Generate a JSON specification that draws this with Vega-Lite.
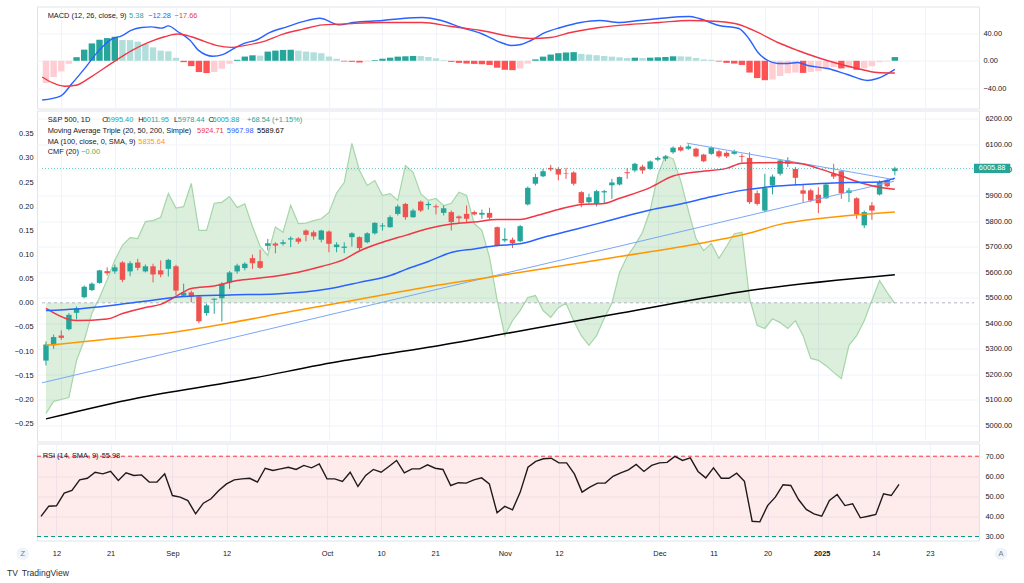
{
"$schema": "https://vega.github.io/schema/vega-lite/v6.json",
"autosize": {"type": "pad"},
"padding": {"left": 6, "top": 5.5, "right": 0, "bottom": 0},
"background": "#ffffff",
"bounds": "flush",
"spacing": 2,
"resolve": {"scale": {"color": "independent"}},
"config": {
  "view": {"stroke": "#e0e3eb", "strokeWidth": 1},
  "font": "Liberation Sans",
  "axis": {"labelFont": "Liberation Sans", "labelFontSize": 7.4, "labelColor": "#131722", "domain": false, "ticks": false, "gridColor": "#f0f3fa", "gridWidth": 1, "labelOverlap": false},
  "text": {"font": "Liberation Sans", "fontSize": 7.4}
},
"datasets": {
  "candles": [
    {"i":0,"o":5254,"h":5329,"l":5235,"c":5317},{"i":1,"o":5314,"h":5356,"l":5300,"c":5346},{"i":2,"o":5352,"h":5372,"l":5335,"c":5343},{"i":3,"o":5377,"h":5440,"l":5372,"c":5433},{"i":4,"o":5441,"h":5466,"l":5415,"c":5459},{"i":5,"o":5502,"h":5548,"l":5498,"c":5543},{"i":6,"o":5530,"h":5560,"l":5526,"c":5555},{"i":7,"o":5558,"h":5609,"l":5555,"c":5607},{"i":8,"o":5604,"h":5619,"l":5587,"c":5596},{"i":9,"o":5603,"h":5630,"l":5594,"c":5619},
    {"i":10,"o":5638,"h":5643,"l":5561,"c":5570},{"i":11,"o":5603,"h":5643,"l":5584,"c":5635},{"i":12,"o":5638,"h":5652,"l":5607,"c":5617},{"i":13,"o":5603,"h":5630,"l":5599,"c":5623},{"i":14,"o":5623,"h":5633,"l":5560,"c":5591},{"i":15,"o":5607,"h":5646,"l":5580,"c":5591},{"i":16,"o":5613,"h":5652,"l":5583,"c":5648},{"i":17,"o":5623,"h":5629,"l":5509,"c":5528},{"i":18,"o":5508,"h":5555,"l":5505,"c":5520},{"i":19,"o":5521,"h":5528,"l":5482,"c":5505},
    {"i":20,"o":5505,"h":5509,"l":5400,"c":5408},{"i":21,"o":5440,"h":5477,"l":5430,"c":5470},{"i":22,"o":5492,"h":5498,"l":5437,"c":5496},{"i":23,"o":5498,"h":5561,"l":5407,"c":5555},{"i":24,"o":5560,"h":5604,"l":5535,"c":5599},{"i":25,"o":5603,"h":5633,"l":5594,"c":5626},{"i":26,"o":5616,"h":5639,"l":5607,"c":5633},{"i":27,"o":5655,"h":5669,"l":5613,"c":5635},{"i":28,"o":5643,"h":5688,"l":5613,"c":5617},{"i":29,"o":5703,"h":5730,"l":5685,"c":5713},
    {"i":30,"o":5712,"h":5717,"l":5674,"c":5704},{"i":31,"o":5711,"h":5727,"l":5704,"c":5717},{"i":32,"o":5728,"h":5740,"l":5698,"c":5733},{"i":33,"o":5732,"h":5737,"l":5711,"c":5719},{"i":34,"o":5763,"h":5767,"l":5721,"c":5746},{"i":35,"o":5756,"h":5763,"l":5727,"c":5740},{"i":36,"o":5727,"h":5766,"l":5717,"c":5763},{"i":37,"o":5759,"h":5763,"l":5678,"c":5711},{"i":38,"o":5698,"h":5717,"l":5678,"c":5708},{"i":39,"o":5695,"h":5717,"l":5674,"c":5700},
    {"i":40,"o":5737,"h":5756,"l":5700,"c":5752},{"i":41,"o":5737,"h":5740,"l":5685,"c":5694},{"i":42,"o":5717,"h":5756,"l":5713,"c":5752},{"i":43,"o":5752,"h":5795,"l":5747,"c":5793},{"i":44,"o":5779,"h":5792,"l":5763,"c":5783},{"i":45,"o":5776,"h":5822,"l":5774,"c":5815},{"i":46,"o":5828,"h":5865,"l":5822,"c":5857},{"i":47,"o":5867,"h":5871,"l":5805,"c":5815},{"i":48,"o":5815,"h":5848,"l":5813,"c":5841},{"i":49,"o":5876,"h":5880,"l":5835,"c":5841},
    {"i":50,"o":5862,"h":5876,"l":5845,"c":5867},{"i":51,"o":5858,"h":5865,"l":5826,"c":5854},{"i":52,"o":5832,"h":5861,"l":5822,"c":5850},{"i":53,"o":5835,"h":5841,"l":5763,"c":5796},{"i":54,"o":5818,"h":5822,"l":5792,"c":5811},{"i":55,"o":5828,"h":5861,"l":5796,"c":5809},{"i":56,"o":5835,"h":5841,"l":5822,"c":5826},{"i":57,"o":5825,"h":5845,"l":5809,"c":5832},{"i":58,"o":5832,"h":5852,"l":5805,"c":5813},{"i":59,"o":5776,"h":5779,"l":5700,"c":5704},
    {"i":60,"o":5724,"h":5772,"l":5717,"c":5730},{"i":61,"o":5727,"h":5735,"l":5695,"c":5713},{"i":62,"o":5721,"h":5785,"l":5717,"c":5780},{"i":63,"o":5865,"h":5935,"l":5861,"c":5930},{"i":64,"o":5946,"h":5985,"l":5939,"c":5972},{"i":65,"o":5975,"h":6004,"l":5972,"c":5995},{"i":66,"o":6008,"h":6020,"l":5995,"c":6002},{"i":67,"o":6004,"h":6011,"l":5959,"c":5982},{"i":68,"o":5987,"h":6008,"l":5965,"c":5985},{"i":69,"o":5990,"h":5995,"l":5939,"c":5946},
    {"i":70,"o":5913,"h":5917,"l":5854,"c":5870},{"i":71,"o":5874,"h":5907,"l":5867,"c":5893},{"i":72,"o":5867,"h":5922,"l":5857,"c":5917},{"i":73,"o":5912,"h":5922,"l":5867,"c":5917},{"i":74,"o":5940,"h":5965,"l":5887,"c":5951},{"i":75,"o":5943,"h":5974,"l":5939,"c":5972},{"i":76,"o":5991,"h":6008,"l":5965,"c":5987},{"i":77,"o":5998,"h":6028,"l":5991,"c":6024},{"i":78,"o":6013,"h":6020,"l":5985,"c":5998},{"i":79,"o":6004,"h":6037,"l":6000,"c":6033},
    {"i":80,"o":6040,"h":6053,"l":6034,"c":6047},{"i":81,"o":6044,"h":6057,"l":6034,"c":6053},{"i":82,"o":6069,"h":6092,"l":6063,"c":6087},{"i":83,"o":6089,"h":6096,"l":6072,"c":6076},{"i":84,"o":6083,"h":6100,"l":6079,"c":6092},{"i":85,"o":6083,"h":6087,"l":6050,"c":6053},{"i":86,"o":6060,"h":6063,"l":6030,"c":6034},{"i":87,"o":6063,"h":6092,"l":6059,"c":6087},{"i":88,"o":6073,"h":6079,"l":6047,"c":6053},{"i":89,"o":6067,"h":6073,"l":6047,"c":6053},
    {"i":90,"o":6063,"h":6079,"l":6060,"c":6073},{"i":91,"o":6054,"h":6063,"l":6030,"c":6051},{"i":92,"o":6047,"h":6069,"l":5867,"c":5874},{"i":93,"o":5909,"h":5920,"l":5861,"c":5867},{"i":94,"o":5841,"h":5985,"l":5835,"c":5929},{"i":95,"o":5939,"h":5982,"l":5904,"c":5974},{"i":96,"o":5985,"h":6040,"l":5978,"c":6037},{"i":97,"o":6024,"h":6050,"l":6011,"c":6037},{"i":98,"o":6004,"h":6011,"l":5939,"c":5969},{"i":99,"o":5920,"h":5943,"l":5873,"c":5907},
    {"i":100,"o":5920,"h":5926,"l":5874,"c":5880},{"i":101,"o":5903,"h":5932,"l":5831,"c":5870},{"i":102,"o":5889,"h":5946,"l":5887,"c":5943},{"i":103,"o":5985,"h":6024,"l":5965,"c":5974},{"i":104,"o":5995,"h":6000,"l":5887,"c":5909},{"i":105,"o":5910,"h":5930,"l":5874,"c":5920},{"i":106,"o":5889,"h":5893,"l":5809,"c":5826},{"i":107,"o":5783,"h":5841,"l":5772,"c":5835},{"i":108,"o":5861,"h":5874,"l":5805,"c":5841},{"i":109,"o":5904,"h":5959,"l":5900,"c":5952},
    {"i":110,"o":5961,"h":5965,"l":5932,"c":5936},{"i":111,"o":5995.4,"h":6011.95,"l":5978.44,"c":6005.88}
  ],
  "ma": [
    {"k":"ma20","i":0,"p":5458},{"k":"ma20","i":3,"p":5415},{"k":"ma20","i":4,"p":5411},{"k":"ma20","i":8,"p":5417},{"k":"ma20","i":10,"p":5438},{"k":"ma20","i":13,"p":5462},{"k":"ma20","i":15,"p":5474},{"k":"ma20","i":17,"p":5505},{"k":"ma20","i":19,"p":5536},{"k":"ma20","i":22,"p":5546},{"k":"ma20","i":25,"p":5567},{"k":"ma20","i":28,"p":5577},{"k":"ma20","i":33,"p":5600},{"k":"ma20","i":36,"p":5622},{"k":"ma20","i":39,"p":5650},{"k":"ma20","i":41,"p":5683},{"k":"ma20","i":44,"p":5717},{"k":"ma20","i":47,"p":5744},{"k":"ma20","i":50,"p":5771},{"k":"ma20","i":53,"p":5788},{"k":"ma20","i":56,"p":5796},{"k":"ma20","i":59,"p":5806},{"k":"ma20","i":62,"p":5806},{"k":"ma20","i":64,"p":5820},{"k":"ma20","i":67,"p":5845},{"k":"ma20","i":70,"p":5865},{"k":"ma20","i":73,"p":5869},{"k":"ma20","i":75,"p":5889},{"k":"ma20","i":79,"p":5931},{"k":"ma20","i":82,"p":5976},{"k":"ma20","i":85,"p":5992},{"k":"ma20","i":89,"p":6006},{"k":"ma20","i":91,"p":6026},{"k":"ma20","i":93,"p":6028},{"k":"ma20","i":97,"p":6029},{"k":"ma20","i":99,"p":6023},{"k":"ma20","i":101,"p":6006},{"k":"ma20","i":104,"p":5976},{"k":"ma20","i":107,"p":5946},{"k":"ma20","i":109,"p":5932},{"k":"ma20","i":111,"p":5924.71},
    {"k":"ma50","i":0,"p":5450},{"k":"ma50","i":4,"p":5456},{"k":"ma50","i":12,"p":5483},{"k":"ma50","i":18,"p":5505},{"k":"ma50","i":24,"p":5511},{"k":"ma50","i":30,"p":5515},{"k":"ma50","i":37,"p":5535},{"k":"ma50","i":41,"p":5560},{"k":"ma50","i":45,"p":5587},{"k":"ma50","i":47,"p":5610},{"k":"ma50","i":50,"p":5642},{"k":"ma50","i":53,"p":5677},{"k":"ma50","i":56,"p":5691},{"k":"ma50","i":59,"p":5704},{"k":"ma50","i":62,"p":5711},{"k":"ma50","i":65,"p":5736},{"k":"ma50","i":69,"p":5766},{"k":"ma50","i":72,"p":5789},{"k":"ma50","i":75,"p":5813},{"k":"ma50","i":79,"p":5843},{"k":"ma50","i":83,"p":5867},{"k":"ma50","i":87,"p":5895},{"k":"ma50","i":91,"p":5920},{"k":"ma50","i":95,"p":5935},{"k":"ma50","i":99,"p":5943},{"k":"ma50","i":103,"p":5949},{"k":"ma50","i":106,"p":5951},{"k":"ma50","i":109,"p":5953},{"k":"ma50","i":110,"p":5958},{"k":"ma50","i":111,"p":5967.98},
    {"k":"ma100","i":0,"p":5314},{"k":"ma100","i":2,"p":5319},{"k":"ma100","i":7,"p":5335},{"k":"ma100","i":16,"p":5362},{"k":"ma100","i":24,"p":5401},{"k":"ma100","i":32,"p":5446},{"k":"ma100","i":41,"p":5494},{"k":"ma100","i":50,"p":5543},{"k":"ma100","i":58,"p":5580},{"k":"ma100","i":66,"p":5618},{"k":"ma100","i":75,"p":5661},{"k":"ma100","i":84,"p":5704},{"k":"ma100","i":92,"p":5753},{"k":"ma100","i":96,"p":5787},{"k":"ma100","i":100,"p":5806},{"k":"ma100","i":105,"p":5822},{"k":"ma100","i":111,"p":5835.64},
    {"k":"ma200","i":0,"p":5026},{"k":"ma200","i":12,"p":5108},{"k":"ma200","i":25,"p":5174},{"k":"ma200","i":39,"p":5254},{"k":"ma200","i":50,"p":5306},{"k":"ma200","i":62,"p":5370},{"k":"ma200","i":75,"p":5439},{"k":"ma200","i":92,"p":5528},{"k":"ma200","i":111,"p":5589.67}
  ],
  "trend": [
    {"g":"a","i":-0.52,"p":5167},{"g":"a","i":110.9,"p":5956},
    {"g":"b","i":83.8,"p":6105},{"g":"b","i":110.9,"p":5962}
  ],
  "cmf": [
    {"i":0,"v":-0.229},{"i":1,"v":-0.204},{"i":2,"v":-0.2},{"i":3,"v":-0.196},{"i":4,"v":-0.119},{"i":5,"v":-0.078},{"i":6,"v":-0.022},{"i":7,"v":0.011},{"i":8,"v":0.048},{"i":9,"v":0.088},
    {"i":10,"v":0.119},{"i":11,"v":0.135},{"i":12,"v":0.133},{"i":13,"v":0.168},{"i":14,"v":0.17},{"i":15,"v":0.177},{"i":16,"v":0.226},{"i":17,"v":0.196},{"i":18,"v":0.199},{"i":19,"v":0.247},
    {"i":20,"v":0.15},{"i":21,"v":0.15},{"i":22,"v":0.206},{"i":23,"v":0.208},{"i":24,"v":0.22},{"i":25,"v":0.197},{"i":26,"v":0.205},{"i":27,"v":0.158},{"i":28,"v":0.117},{"i":29,"v":0.098},
    {"i":30,"v":0.157},{"i":31,"v":0.146},{"i":32,"v":0.202},{"i":33,"v":0.164},{"i":34,"v":0.165},{"i":35,"v":0.17},{"i":36,"v":0.174},{"i":37,"v":0.187},{"i":38,"v":0.227},{"i":39,"v":0.249},
    {"i":40,"v":0.33},{"i":41,"v":0.274},{"i":42,"v":0.243},{"i":43,"v":0.253},{"i":44,"v":0.222},{"i":45,"v":0.226},{"i":46,"v":0.212},{"i":47,"v":0.284},{"i":48,"v":0.27},{"i":49,"v":0.226},
    {"i":50,"v":0.212},{"i":51,"v":0.216},{"i":52,"v":0.201},{"i":53,"v":0.206},{"i":54,"v":0.229},{"i":55,"v":0.222},{"i":56,"v":0.164},{"i":57,"v":0.15},{"i":58,"v":0.094},{"i":59,"v":0.005},
    {"i":60,"v":-0.068},{"i":61,"v":-0.037},{"i":62,"v":-0.016},{"i":63,"v":0.011},{"i":64,"v":0.015},{"i":65,"v":-0.016},{"i":66,"v":-0.03},{"i":67,"v":-0.01},{"i":68,"v":-0.001},{"i":69,"v":-0.037},
    {"i":70,"v":-0.068},{"i":71,"v":-0.088},{"i":72,"v":-0.068},{"i":73,"v":-0.032},{"i":74,"v":-0.001},{"i":75,"v":0.063},{"i":76,"v":0.096},{"i":77,"v":0.119},{"i":78,"v":0.146},{"i":79,"v":0.191},
    {"i":80,"v":0.264},{"i":81,"v":0.305},{"i":82,"v":0.298},{"i":83,"v":0.253},{"i":84,"v":0.191},{"i":85,"v":0.133},{"i":86,"v":0.108},{"i":87,"v":0.123},{"i":88,"v":0.092},{"i":89,"v":0.117},
    {"i":90,"v":0.143},{"i":91,"v":0.146},{"i":92,"v":0.009},{"i":93,"v":-0.047},{"i":94,"v":-0.053},{"i":95,"v":-0.033},{"i":96,"v":-0.041},{"i":97,"v":-0.053},{"i":98,"v":-0.037},{"i":99,"v":-0.068},
    {"i":100,"v":-0.115},{"i":101,"v":-0.119},{"i":102,"v":-0.13},{"i":103,"v":-0.144},{"i":104,"v":-0.157},{"i":105,"v":-0.088},{"i":106,"v":-0.068},{"i":107,"v":-0.037},{"i":108,"v":0.005},{"i":109,"v":0.046},
    {"i":110,"v":0.021},{"i":111,"v":-0.001}
  ],
  "macdh": [
    {"i":0,"h":-32,"k":"nu"},{"i":1,"h":-23.4,"k":"nu"},{"i":2,"h":-15.3,"k":"nu"},{"i":3,"h":-4.3,"k":"nu"},{"i":4,"h":5.2,"k":"pu"},{"i":5,"h":16.1,"k":"pu"},{"i":6,"h":25.1,"k":"pu"},{"i":7,"h":30.4,"k":"pu"},{"i":8,"h":32.8,"k":"pu"},{"i":9,"h":34.7,"k":"pu"},
    {"i":10,"h":30,"k":"pd"},{"i":11,"h":29.8,"k":"pd"},{"i":12,"h":27.6,"k":"pd"},{"i":13,"h":24.3,"k":"pd"},{"i":14,"h":19.4,"k":"pd"},{"i":15,"h":14.7,"k":"pd"},{"i":16,"h":13.7,"k":"pd"},{"i":17,"h":4.3,"k":"pd"},{"i":18,"h":-2,"k":"nd"},{"i":19,"h":-7.7,"k":"nd"},
    {"i":20,"h":-16.3,"k":"nd"},{"i":21,"h":-17.7,"k":"nd"},{"i":22,"h":-16.3,"k":"nu"},{"i":23,"h":-11.4,"k":"nu"},{"i":24,"h":-4.3,"k":"nu"},{"i":25,"h":1.4,"k":"pu"},{"i":26,"h":6.1,"k":"pu"},{"i":27,"h":7.9,"k":"pu"},{"i":28,"h":7.5,"k":"pd"},{"i":29,"h":13.3,"k":"pu"},
    {"i":30,"h":14.7,"k":"pu"},{"i":31,"h":15.7,"k":"pu"},{"i":32,"h":16.1,"k":"pu"},{"i":33,"h":14.7,"k":"pd"},{"i":34,"h":13.3,"k":"pd"},{"i":35,"h":12.3,"k":"pd"},{"i":36,"h":10.9,"k":"pd"},{"i":37,"h":6.1,"k":"pd"},{"i":38,"h":2.9,"k":"pd"},{"i":39,"h":-1,"k":"nd"},
    {"i":40,"h":-1.5,"k":"nd"},{"i":41,"h":-2.5,"k":"nd"},{"i":42,"h":-1,"k":"nu"},{"i":43,"h":1,"k":"pu"},{"i":44,"h":3,"k":"pu"},{"i":45,"h":4.5,"k":"pu"},{"i":46,"h":6,"k":"pu"},{"i":47,"h":6.5,"k":"pu"},{"i":48,"h":7,"k":"pu"},{"i":49,"h":6.8,"k":"pd"},
    {"i":50,"h":5.5,"k":"pd"},{"i":51,"h":3.5,"k":"pd"},{"i":52,"h":1,"k":"pd"},{"i":53,"h":-1.5,"k":"nd"},{"i":54,"h":-3,"k":"nd"},{"i":55,"h":-4,"k":"nd"},{"i":56,"h":-4.5,"k":"nd"},{"i":57,"h":-5,"k":"nd"},{"i":58,"h":-6,"k":"nd"},{"i":59,"h":-10,"k":"nd"},
    {"i":60,"h":-13,"k":"nd"},{"i":61,"h":-13.5,"k":"nd"},{"i":62,"h":-11,"k":"nu"},{"i":63,"h":-4,"k":"nu"},{"i":64,"h":2,"k":"pu"},{"i":65,"h":6,"k":"pu"},{"i":66,"h":9,"k":"pu"},{"i":67,"h":11,"k":"pu"},{"i":68,"h":12,"k":"pu"},{"i":69,"h":12.5,"k":"pu"},
    {"i":70,"h":10,"k":"pd"},{"i":71,"h":9,"k":"pd"},{"i":72,"h":8,"k":"pd"},{"i":73,"h":7,"k":"pd"},{"i":74,"h":6,"k":"pd"},{"i":75,"h":5,"k":"pd"},{"i":76,"h":4,"k":"pd"},{"i":77,"h":4.5,"k":"pu"},{"i":78,"h":4,"k":"pd"},{"i":79,"h":4.5,"k":"pu"},
    {"i":80,"h":5,"k":"pu"},{"i":81,"h":5.5,"k":"pu"},{"i":82,"h":6.5,"k":"pu"},{"i":83,"h":6.4,"k":"pd"},{"i":84,"h":6,"k":"pd"},{"i":85,"h":4,"k":"pd"},{"i":86,"h":2,"k":"pd"},{"i":87,"h":1.5,"k":"pd"},{"i":88,"h":-1,"k":"nd"},{"i":89,"h":-3,"k":"nd"},
    {"i":90,"h":-4,"k":"nd"},{"i":91,"h":-6,"k":"nd"},{"i":92,"h":-17,"k":"nd"},{"i":93,"h":-25,"k":"nd"},{"i":94,"h":-28,"k":"nd"},{"i":95,"h":-27,"k":"nu"},{"i":96,"h":-22,"k":"nu"},{"i":97,"h":-18,"k":"nu"},{"i":98,"h":-17,"k":"nu"},{"i":99,"h":-17.5,"k":"nd"},
    {"i":100,"h":-16,"k":"nu"},{"i":101,"h":-15,"k":"nu"},{"i":102,"h":-12,"k":"nu"},{"i":103,"h":-9,"k":"nu"},{"i":104,"h":-11,"k":"nd"},{"i":105,"h":-10,"k":"nu"},{"i":106,"h":-13,"k":"nd"},{"i":107,"h":-11,"k":"nu"},{"i":108,"h":-8,"k":"nu"},{"i":109,"h":-2,"k":"nu"},
    {"i":110,"h":-1,"k":"nu"},{"i":111,"h":5.38,"k":"pu"}
  ],
  "macdl": [
    {"k":"macd","i":-0.5,"v":-56.7},{"k":"macd","i":1.9,"v":-51},{"k":"macd","i":3.4,"v":-32.9},{"k":"macd","i":5.2,"v":-9.1},{"k":"macd","i":6.9,"v":14.7},{"k":"macd","i":8.6,"v":31.4},{"k":"macd","i":9.9,"v":36.1},{"k":"macd","i":11.2,"v":44.3},{"k":"macd","i":12.5,"v":48},{"k":"macd","i":13.8,"v":49},{"k":"macd","i":15.1,"v":47.1},{"k":"macd","i":16,"v":50.4},{"k":"macd","i":17.2,"v":42.3},{"k":"macd","i":18.8,"v":30},{"k":"macd","i":20,"v":14.7},{"k":"macd","i":21.8,"v":6.6},{"k":"macd","i":23.1,"v":9},{"k":"macd","i":24.6,"v":18},{"k":"macd","i":25.9,"v":25.1},{"k":"macd","i":27.6,"v":30.4},{"k":"macd","i":29.3,"v":40.9},{"k":"macd","i":31.5,"v":49},{"k":"macd","i":33.6,"v":56.6},{"k":"macd","i":35.8,"v":61.4},{"k":"macd","i":38.4,"v":51.9},
    {"k":"macd","i":40.1,"v":55.3},{"k":"macd","i":44,"v":58.2},{"k":"macd","i":46.6,"v":61.1},{"k":"macd","i":49.2,"v":62.5},{"k":"macd","i":51.7,"v":58.2},{"k":"macd","i":54.3,"v":48.1},{"k":"macd","i":56.9,"v":39.4},{"k":"macd","i":59.5,"v":26.4},{"k":"macd","i":60.8,"v":22.1},{"k":"macd","i":62.1,"v":23.5},{"k":"macd","i":63.4,"v":29.3},{"k":"macd","i":65.3,"v":40.9},{"k":"macd","i":67.3,"v":48.1},{"k":"macd","i":69.9,"v":55.3},{"k":"macd","i":72.4,"v":58.2},{"k":"macd","i":75,"v":55.3},{"k":"macd","i":77.6,"v":58.2},{"k":"macd","i":80.2,"v":61.1},{"k":"macd","i":84.1,"v":64},{"k":"macd","i":85.4,"v":61.1},{"k":"macd","i":88,"v":51},{"k":"macd","i":90.6,"v":46.6},{"k":"macd","i":91.9,"v":32.2},{"k":"macd","i":93.1,"v":12},{"k":"macd","i":94.4,"v":0.4},{"k":"macd","i":95.7,"v":-3.9},{"k":"macd","i":97,"v":-3.9},{"k":"macd","i":98.3,"v":-2.5},{"k":"macd","i":99.6,"v":-6.8},{"k":"macd","i":102.2,"v":-11.1},{"k":"macd","i":104.8,"v":-19.8},{"k":"macd","i":107.4,"v":-28.4},{"k":"macd","i":108.7,"v":-25.6},{"k":"macd","i":111,"v":-12.28},
    {"k":"signal","i":-0.5,"v":-23.4},{"k":"signal","i":0.9,"v":-32},{"k":"signal","i":2.4,"v":-36.7},{"k":"signal","i":3.9,"v":-35.3},{"k":"signal","i":6,"v":-22.4},{"k":"signal","i":8.6,"v":-3.4},{"k":"signal","i":11.2,"v":14.7},{"k":"signal","i":13.4,"v":26.6},{"k":"signal","i":15.5,"v":34.7},{"k":"signal","i":17.2,"v":38.6},{"k":"signal","i":19,"v":34.7},{"k":"signal","i":20.7,"v":28},{"k":"signal","i":22.4,"v":21.9},{"k":"signal","i":24.2,"v":19.4},{"k":"signal","i":25.9,"v":21.9},{"k":"signal","i":28.5,"v":28},{"k":"signal","i":31,"v":38.6},{"k":"signal","i":33.6,"v":45.7},{"k":"signal","i":36.2,"v":51.9},{"k":"signal","i":38.4,"v":52.9},
    {"k":"signal","i":40.1,"v":53.9},{"k":"signal","i":44,"v":55.3},{"k":"signal","i":49.2,"v":55.3},{"k":"signal","i":53,"v":49.5},{"k":"signal","i":56.9,"v":43.8},{"k":"signal","i":60.8,"v":35.1},{"k":"signal","i":63.4,"v":32.2},{"k":"signal","i":66,"v":33.6},{"k":"signal","i":68.6,"v":40.9},{"k":"signal","i":72.4,"v":48.1},{"k":"signal","i":76.3,"v":52.4},{"k":"signal","i":80.2,"v":55.3},{"k":"signal","i":84.1,"v":58.2},{"k":"signal","i":88,"v":56.7},{"k":"signal","i":90.6,"v":52.4},{"k":"signal","i":93.1,"v":40.9},{"k":"signal","i":95.7,"v":26.4},{"k":"signal","i":98.3,"v":14.9},{"k":"signal","i":100.9,"v":4.8},{"k":"signal","i":103.5,"v":-3.9},{"k":"signal","i":106.1,"v":-11.1},{"k":"signal","i":108.7,"v":-16.9},{"k":"signal","i":111,"v":-17.66}
  ],
  "macdtext": [
    {"i":0.22,"v":64.5,"t":"MACD (12, 26, close, 9)","k":"lbl"},
    {"i":10.87,"v":64.5,"t":"5.38","k":"pu"},
    {"i":13.36,"v":64.5,"t":"−12.28","k":"macd"},
    {"i":16.82,"v":64.5,"t":"−17.66","k":"signal"}
  ],
  "maintext": [
    {"i":0.22,"p":6196,"t":"S&P 500, 1D","k":"lbl"},
    {"i":7.37,"p":6196,"t":"O","k":"lbl"},{"i":7.93,"p":6196,"t":"5995.40","k":"up"},
    {"i":12.07,"p":6196,"t":"H","k":"lbl"},{"i":12.65,"p":6196,"t":"6011.95","k":"up"},
    {"i":16.73,"p":6196,"t":"L","k":"lbl"},{"i":17.24,"p":6196,"t":"5978.44","k":"up"},
    {"i":21.26,"p":6196,"t":"C","k":"lbl"},{"i":21.78,"p":6196,"t":"6005.88","k":"up"},
    {"i":26.3,"p":6196,"t":"+68.54 (+1.15%)","k":"up"},
    {"i":0.22,"p":6151.5,"t":"Moving Average Triple (20, 50, 200, Simple)","k":"lbl"},
    {"i":19.75,"p":6151.5,"t":"5924.71","k":"ma20"},
    {"i":23.65,"p":6151.5,"t":"5967.98","k":"ma50"},
    {"i":27.6,"p":6151.5,"t":"5589.67","k":"ma200"},
    {"i":0.22,"p":6111,"t":"MA (100, close, 0, SMA, 9)","k":"lbl"},
    {"i":12.07,"p":6111,"t":"5835.64","k":"ma100"},
    {"i":0.22,"p":6072,"t":"CMF (20)","k":"lbl"},
    {"i":4.62,"p":6072,"t":"−0.00","k":"cmf"}
  ],
  "lastprice": [{"i":-0.52,"i2":121.35,"p":6005.88}],
  "pricebox": [{"i":121.35,"i2":126.1,"p":6024,"p2":5987.5,"c":123.72,"pc":6005.88,"t":"6005.88"}],
  "cmfzero": [{"i":-0.52,"i2":121.35,"v":0}],
  "rsi": [
    {"i":0,"v":40},{"i":1,"v":45.1},{"i":2,"v":45.3},{"i":3,"v":51.6},{"i":4,"v":52.9},{"i":5,"v":58.2},{"i":6,"v":59},{"i":7,"v":62},{"i":8,"v":61.2},{"i":9,"v":62.5},
    {"i":10,"v":57.9},{"i":11,"v":61.7},{"i":12,"v":60.4},{"i":13,"v":60.7},{"i":14,"v":57.1},{"i":15,"v":57.1},{"i":16,"v":61.2},{"i":17,"v":50.4},{"i":18,"v":49.6},{"i":19,"v":47.9},
    {"i":20,"v":41.3},{"i":21,"v":46.6},{"i":22,"v":48.8},{"i":23,"v":52.9},{"i":24,"v":56.2},{"i":25,"v":58.2},{"i":26,"v":58.7},{"i":27,"v":59},{"i":28,"v":57.1},{"i":29,"v":64},
    {"i":30,"v":62.9},{"i":31,"v":63.7},{"i":32,"v":64.5},{"i":33,"v":63.4},{"i":34,"v":65.4},{"i":35,"v":64.2},{"i":36,"v":66.2},{"i":37,"v":58.7},{"i":38,"v":58.7},{"i":39,"v":57.4},
    {"i":40,"v":62},{"i":41,"v":54.9},{"i":42,"v":60.4},{"i":43,"v":63.4},{"i":44,"v":62},{"i":45,"v":64.9},{"i":46,"v":67.9},{"i":47,"v":61.7},{"i":48,"v":63.7},{"i":49,"v":63.7},
    {"i":50,"v":65.7},{"i":51,"v":64},{"i":52,"v":63.4},{"i":53,"v":55.4},{"i":54,"v":56.8},{"i":55,"v":56.6},{"i":56,"v":58.2},{"i":57,"v":59.2},{"i":58,"v":56.2},{"i":59,"v":41.8},
    {"i":60,"v":45},{"i":61,"v":43.3},{"i":62,"v":52.1},{"i":63,"v":64.5},{"i":64,"v":67.4},{"i":65,"v":68.7},{"i":66,"v":69},{"i":67,"v":66.7},{"i":68,"v":66.7},{"i":69,"v":61.2},
    {"i":70,"v":52.1},{"i":71,"v":54.6},{"i":72,"v":56.6},{"i":73,"v":56.6},{"i":74,"v":60},{"i":75,"v":61.7},{"i":76,"v":63.2},{"i":77,"v":65.9},{"i":78,"v":62.4},{"i":79,"v":65.4},
    {"i":80,"v":66.7},{"i":81,"v":66.9},{"i":82,"v":69.9},{"i":83,"v":67.9},{"i":84,"v":69.2},{"i":85,"v":62.4},{"i":86,"v":59.2},{"i":87,"v":64.2},{"i":88,"v":59},{"i":89,"v":59},
    {"i":90,"v":61.5},{"i":91,"v":57.5},{"i":92,"v":37.6},{"i":93,"v":37.3},{"i":94,"v":45.4},{"i":95,"v":49.6},{"i":96,"v":55.8},{"i":97,"v":55.4},{"i":98,"v":48.4},{"i":99,"v":43.5},
    {"i":100,"v":41.3},{"i":101,"v":40.1},{"i":102,"v":47.9},{"i":103,"v":50.9},{"i":104,"v":45.4},{"i":105,"v":46.3},{"i":106,"v":39.3},{"i":107,"v":40.1},{"i":108,"v":41},{"i":109,"v":51.3},
    {"i":110,"v":50.4},{"i":111,"v":55.98}
  ],
  "rsiband": [{"i":-0.52,"i2":121.35,"lo":30,"hi":70}],
  "rsilevels": [{"i":-0.52,"i2":121.35,"v":70},{"i":-0.52,"i2":121.35,"v":30}],
  "rsitext": [
    {"i":0.22,"v":70,"t":"RSI (14, SMA, 9)"},
    {"i":7.85,"v":70,"t":"55.98"}
  ],
  "buttons": [{"i":-2.37,"v":21.4,"t":"Z"},{"i":124.2,"v":21.4,"t":"A"}],
  "brand": [{"i":-4.4,"v":11.6,"t":"TV","w":"bold"},{"i":-2.5,"v":11.6,"t":"TradingView","w":"normal"}]
},
"vconcat": [
  {
    "width": 942, "height": 102,
    "encoding": {"x": {"field": "i", "type": "quantitative", "scale": {"domain": [-0.52, 121.35], "nice": false, "zero": false}, "axis": {"values": [2,9,17,24,37,44,51,60,67,80,87,94,101,108,115], "tickCount": 40, "labels": false, "grid": true, "title": null}}},
    "layer": [
      {"data": {"name": "macdh"}, "mark": {"type": "bar", "width": 6.4},
       "encoding": {
         "y": {"field": "h", "type": "quantitative", "scale": {"domain": [-68.9, 78.4], "nice": false, "zero": false}, "axis": {"orient": "right", "values": [-40, 0, 40], "tickCount": 20, "format": ".2f", "grid": true, "labelPadding": 4, "labelOverlap": false, "title": null}},
         "y2": {"datum": 0},
         "color": {"field": "k", "type": "nominal", "scale": {"domain": ["pu","pd","nd","nu","macd","signal","lbl"], "range": ["#26a69a","#b2dfdb","#ff5252","#ffcdd2","#2962ff","#f23645","#131722"]}, "legend": null}}},
      {"data": {"name": "macdl"}, "mark": {"type": "line", "strokeWidth": 1.4, "interpolate": "monotone"},
       "encoding": {"y": {"field": "v", "type": "quantitative"}, "color": {"field": "k", "type": "nominal", "scale": {"domain": ["pu","pd","nd","nu","macd","signal","lbl"], "range": ["#26a69a","#b2dfdb","#ff5252","#ffcdd2","#2962ff","#f23645","#131722"]}, "legend": null}}},
      {"data": {"name": "macdtext"}, "mark": {"type": "text", "align": "left", "baseline": "middle"},
       "encoding": {"y": {"field": "v", "type": "quantitative"}, "text": {"field": "t"}, "color": {"field": "k", "type": "nominal", "scale": {"domain": ["pu","pd","nd","nu","macd","signal","lbl"], "range": ["#26a69a","#b2dfdb","#ff5252","#ffcdd2","#2962ff","#f23645","#131722"]}, "legend": null}}}
    ]
  },
  {
    "width": 942, "height": 331,
    "encoding": {"x": {"field": "i", "type": "quantitative", "scale": {"domain": [-0.52, 121.35], "nice": false, "zero": false}, "axis": {"values": [2,9,17,24,37,44,51,60,67,80,87,94,101,108,115], "tickCount": 40, "labels": false, "grid": true, "title": null}}},
    "layer": [
      {
        "layer": [
          {"data": {"name": "cmf"}, "mark": {"type": "area", "color": "#4caf50", "opacity": 0.2},
           "encoding": {
             "y": {"field": "v", "type": "quantitative", "scale": {"domain": [-0.287, 0.398], "nice": false, "zero": false}, "axis": {"orient": "left", "values": [-0.25,-0.2,-0.15,-0.1,-0.05,0,0.05,0.1,0.15,0.2,0.25,0.3,0.35], "tickCount": 40, "format": ".2f", "grid": false, "labelPadding": 4, "labelOverlap": false, "title": null}},
             "y2": {"datum": 0}}},
          {"data": {"name": "cmf"}, "mark": {"type": "line", "color": "#a5d6a7", "strokeWidth": 1.2},
           "encoding": {"y": {"field": "v", "type": "quantitative"}}},
          {"data": {"name": "cmfzero"}, "mark": {"type": "rule", "color": "#b2b5be", "strokeDash": [3, 3], "strokeWidth": 1},
           "encoding": {"x2": {"field": "i2"}, "y": {"field": "v", "type": "quantitative"}}}
        ]
      },
      {
        "layer": [
          {"data": {"name": "candles"}, "mark": {"type": "rule", "strokeWidth": 1},
           "encoding": {
             "y": {"field": "l", "type": "quantitative", "scale": {"domain": [4937.5, 6232.5], "nice": false, "zero": false}, "axis": {"orient": "right", "values": [5000,5100,5200,5300,5400,5500,5600,5700,5800,5900,6000,6100,6200], "tickCount": 40, "format": ".2f", "grid": true, "labelPadding": 6, "labelOverlap": false, "title": null}},
             "y2": {"field": "h"},
             "color": {"condition": {"test": "datum.c >= datum.o", "value": "#26a69a"}, "value": "#ef5350"}}},
          {"data": {"name": "candles"}, "mark": {"type": "bar", "width": 5.4},
           "encoding": {"y": {"field": "o", "type": "quantitative"}, "y2": {"field": "c"},
             "color": {"condition": {"test": "datum.c >= datum.o", "value": "#26a69a"}, "value": "#ef5350"}}},
          {"data": {"name": "trend"}, "mark": {"type": "line", "strokeWidth": 1, "color": "#7aa6f8"},
           "encoding": {"y": {"field": "p", "type": "quantitative"}, "detail": {"field": "g"}}},
          {"data": {"name": "ma"}, "mark": {"type": "line", "strokeWidth": 1.5, "interpolate": "monotone"},
           "encoding": {"y": {"field": "p", "type": "quantitative"},
             "color": {"field": "k", "type": "nominal", "scale": {"domain": ["lbl","up","ma20","ma50","ma100","ma200","cmf"], "range": ["#131722","#26a69a","#f23645","#2962ff","#ff9800","#000000","#4caf50"]}, "legend": null}}},
          {"data": {"name": "lastprice"}, "mark": {"type": "rule", "color": "#26a69a", "strokeDash": [1, 2], "strokeWidth": 1, "opacity": 0.7},
           "encoding": {"x2": {"field": "i2"}, "y": {"field": "p", "type": "quantitative"}}},
          {"data": {"name": "pricebox"}, "mark": {"type": "rect", "color": "#26a69a"},
           "encoding": {"x2": {"field": "i2"}, "y": {"field": "p", "type": "quantitative"}, "y2": {"field": "p2"}}},
          {"data": {"name": "pricebox"}, "mark": {"type": "text", "color": "#ffffff", "align": "center", "baseline": "middle"},
           "encoding": {"x": {"field": "c", "type": "quantitative"}, "y": {"field": "pc", "type": "quantitative"}, "text": {"field": "t"}}},
          {"data": {"name": "maintext"}, "mark": {"type": "text", "align": "left", "baseline": "middle"},
           "encoding": {"y": {"field": "p", "type": "quantitative"}, "text": {"field": "t"}, "color": {"field": "k", "type": "nominal", "scale": {"domain": ["lbl","up","ma20","ma50","ma100","ma200","cmf"], "range": ["#131722","#26a69a","#f23645","#2962ff","#ff9800","#000000","#4caf50"]}, "legend": null}}}
        ]
      }
    ],
    "resolve": {"scale": {"y": "independent"}, "axis": {"y": "independent"}}
  },
  {
    "width": 942, "height": 97,
    "encoding": {"x": {"field": "i", "type": "quantitative", "scale": {"domain": [-0.52, 121.35], "nice": false, "zero": false},
      "axis": {"values": [2,9,17,24,37,44,51,60,67,80,87,94,101,108,115], "tickCount": 40, "labelExpr": "['12','21','Sep','12','Oct','10','21','Nov','12','Dec','11','20','2025','14','23'][indexof([2,9,17,24,37,44,51,60,67,80,87,94,101,108,115], datum.value)]", "labelFontWeight": {"condition": {"test": "datum.value == 101", "value": "bold"}, "value": "normal"}, "labelOverlap": false, "labelFlush": false, "labelPadding": 9, "grid": true, "title": null}}},
    "layer": [
      {"data": {"name": "rsiband"}, "mark": {"type": "rect", "color": "#f23645", "opacity": 0.1},
       "encoding": {"x2": {"field": "i2"},
         "y": {"field": "lo", "type": "quantitative", "scale": {"domain": [28, 76.33], "nice": false, "zero": false}, "axis": {"orient": "right", "values": [30,40,50,60,70], "tickCount": 20, "format": ".2f", "grid": true, "labelPadding": 6, "labelOverlap": false, "title": null}},
         "y2": {"field": "hi"}}},
      {"data": {"name": "rsilevels"}, "mark": {"type": "rule", "strokeDash": [4, 3], "strokeWidth": 1},
       "encoding": {"x2": {"field": "i2"}, "y": {"field": "v", "type": "quantitative"},
         "color": {"condition": {"test": "datum.v > 50", "value": "#f23645"}, "value": "#089981"}}},
      {"data": {"name": "rsi"}, "mark": {"type": "line", "strokeWidth": 1.4, "color": "#1f1a1a"},
       "encoding": {"y": {"field": "v", "type": "quantitative"}}},
      {"data": {"name": "rsitext"}, "mark": {"type": "text", "align": "left", "baseline": "middle", "color": "#131722"},
       "encoding": {"y": {"field": "v", "type": "quantitative"}, "text": {"field": "t"}}},
      {"data": {"name": "buttons"}, "mark": {"type": "point", "filled": true, "color": "#f0f3fa", "size": 160, "opacity": 1},
       "encoding": {"y": {"field": "v", "type": "quantitative"}}},
      {"data": {"name": "buttons"}, "mark": {"type": "text", "align": "center", "baseline": "middle", "color": "#787b86", "fontSize": 7.5},
       "encoding": {"y": {"field": "v", "type": "quantitative"}, "text": {"field": "t"}}},
      {"data": {"name": "brand"}, "mark": {"type": "text", "align": "left", "baseline": "middle", "color": "#2a2e39", "fontSize": 8.6},
       "encoding": {"y": {"field": "v", "type": "quantitative"}, "text": {"field": "t"}, "fontWeight": {"field": "w", "type": "nominal", "scale": null}}}
    ]
  }
]
}
